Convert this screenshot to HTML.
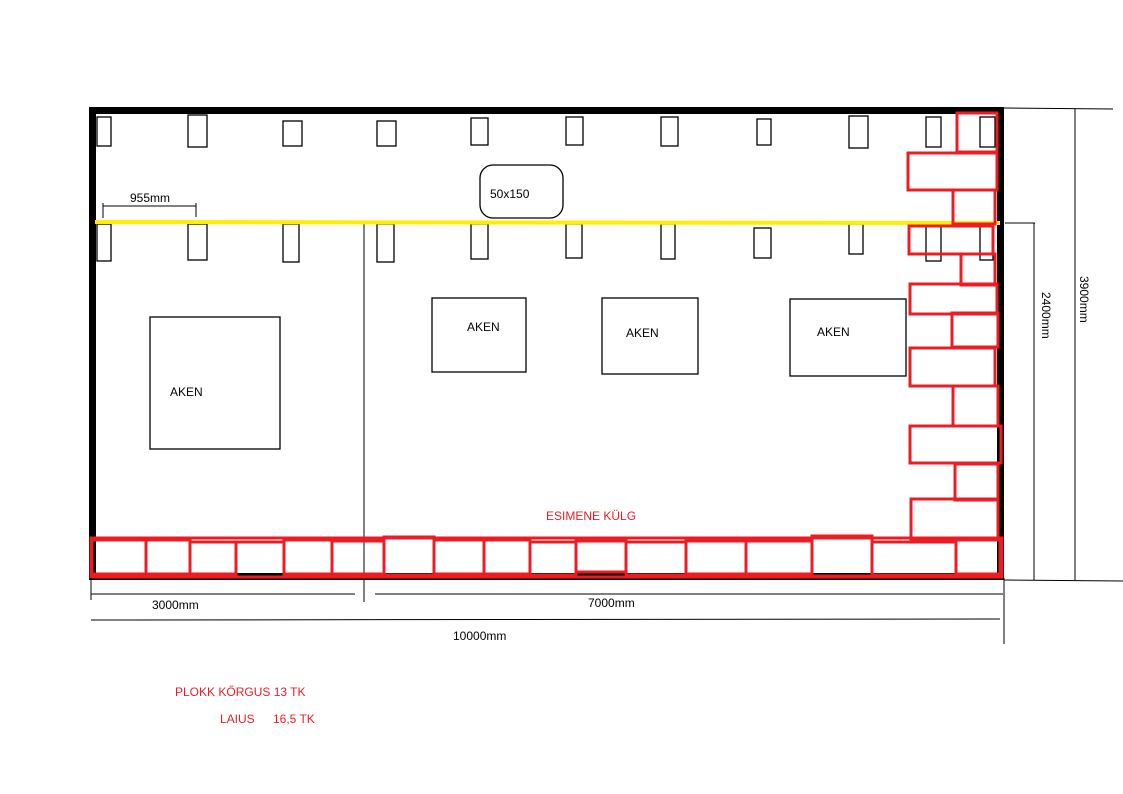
<!DOCTYPE html>
<html><head><meta charset="utf-8"><style>
html,body{margin:0;padding:0;background:#fff;}
svg{display:block;}
text{font-family:"Liberation Sans","DejaVu Sans",sans-serif;font-size:12px;}
</style></head><body>
<svg width="1123" height="794" viewBox="0 0 1123 794" xmlns="http://www.w3.org/2000/svg">
<rect x="0" y="0" width="1123" height="794" fill="#fff"/>
<!-- outer wall -->
<rect x="92.5" y="110.5" width="908" height="466" fill="none" stroke="#000" stroke-width="7"/>
<g fill="none" stroke="#000" stroke-width="1.3">
<!-- top posts -->
<rect x="97" y="117" width="14" height="29"/>
<rect x="188" y="115" width="19" height="32"/>
<rect x="283" y="121" width="19" height="25"/>
<rect x="377" y="121" width="19" height="25"/>
<rect x="471" y="118" width="17" height="27"/>
<rect x="566" y="117" width="17" height="28"/>
<rect x="661" y="117" width="17" height="29"/>
<rect x="757" y="119" width="14" height="26"/>
<rect x="849" y="116" width="19" height="32"/>
<rect x="926" y="117" width="15" height="30"/>
<rect x="980" y="117" width="15" height="30"/>
<!-- lower posts -->
<rect x="97" y="224" width="14" height="37"/>
<rect x="188" y="224" width="19" height="36"/>
<rect x="283" y="224" width="16" height="38"/>
<rect x="377" y="224" width="17" height="38"/>
<rect x="471" y="224" width="17" height="35"/>
<rect x="566" y="224" width="16" height="34"/>
<rect x="661" y="224" width="14" height="35"/>
<rect x="754" y="228" width="17" height="30"/>
<rect x="849" y="224" width="14" height="30"/>
<rect x="926" y="222" width="15" height="39"/>
<rect x="980" y="224" width="13" height="36"/>
<!-- windows -->
<rect x="150" y="317" width="130" height="132"/>
<rect x="432" y="298" width="94" height="74"/>
<rect x="602" y="298" width="96" height="76"/>
<rect x="790" y="299" width="116" height="77"/>
<!-- rounded label box -->
<rect x="480" y="165" width="83" height="53" rx="13"/>
</g>
<!-- divider -->
<line x1="364" y1="223" x2="364" y2="602" stroke="#000" stroke-width="1"/>
<!-- 955mm dim -->
<g stroke="#000" stroke-width="1">
<line x1="103" y1="206" x2="196" y2="206"/>
<line x1="103" y1="203" x2="103" y2="218"/>
<line x1="196" y1="203" x2="196" y2="217"/>
</g>
<!-- yellow line -->
<line x1="95" y1="222" x2="1000" y2="223" stroke="#ffee00" stroke-width="4"/>
<!-- red blocks right -->
<g fill="none" stroke="#ed1c24" stroke-width="3">
<rect x="957" y="113" width="40" height="39"/>
<rect x="908" y="153" width="89" height="37"/>
<rect x="953" y="190" width="42" height="34"/>
<rect x="909" y="226" width="84" height="28"/>
<rect x="961" y="254" width="34" height="31"/>
<rect x="910" y="284" width="87" height="30"/>
<rect x="952" y="313" width="46" height="34"/>
<rect x="910" y="348" width="85" height="38"/>
<rect x="953" y="386" width="45" height="40"/>
<rect x="910" y="426" width="91" height="37"/>
<rect x="955" y="464" width="43" height="36"/>
<rect x="911" y="499" width="87" height="40"/>
<!-- bottom row -->
<rect x="91" y="538" width="911" height="39"/>
<rect x="92" y="540" width="54" height="34"/>
<rect x="146" y="540" width="44" height="34"/>
<rect x="190" y="542" width="46" height="32"/>
<rect x="236" y="542" width="48" height="35"/>
<rect x="284" y="540" width="48" height="34"/>
<rect x="332" y="541" width="52" height="33"/>
<rect x="384" y="537" width="50" height="38"/>
<rect x="434" y="540" width="50" height="34"/>
<rect x="484" y="540" width="46" height="34"/>
<rect x="530" y="542" width="46" height="33"/>
<rect x="576" y="541" width="50" height="31"/>
<rect x="626" y="542" width="60" height="33"/>
<rect x="686" y="541" width="60" height="33"/>
<rect x="746" y="541" width="66" height="33"/>
<rect x="812" y="536" width="60" height="40"/>
<rect x="872" y="542" width="84" height="33"/>
<rect x="956" y="540" width="44" height="34"/>
</g>
<!-- dimensions bottom -->
<g stroke="#000" stroke-width="1">
<line x1="91" y1="578" x2="91" y2="600"/>
<line x1="91" y1="594" x2="355" y2="594"/>
<line x1="375" y1="594" x2="1003" y2="594"/>
<line x1="1004" y1="578" x2="1004" y2="644"/>
<line x1="91" y1="620" x2="1000" y2="619"/>
<!-- right dims -->
<line x1="1004" y1="108" x2="1113" y2="109"/>
<line x1="1075" y1="109" x2="1075" y2="580"/>
<line x1="1004" y1="580" x2="1123" y2="581"/>
<line x1="1005" y1="223" x2="1035" y2="223"/>
<line x1="1034" y1="223" x2="1034" y2="580"/>
</g>
<!-- text -->
<text x="130" y="202" fill="#000">955mm</text>
<text x="490" y="198" fill="#000">50x150</text>
<text x="170" y="396" fill="#000">AKEN</text>
<text x="467" y="331" fill="#000">AKEN</text>
<text x="626" y="337" fill="#000">AKEN</text>
<text x="817" y="336" fill="#000">AKEN</text>
<text x="546" y="520" fill="#ed1c24">ESIMENE KÜLG</text>
<text x="152" y="609" fill="#000">3000mm</text>
<text x="588" y="607" fill="#000">7000mm</text>
<text x="453" y="640" fill="#000">10000mm</text>
<text x="1042" y="292" fill="#000" transform="rotate(90 1042 292)">2400mm</text>
<text x="1080" y="276" fill="#000" transform="rotate(90 1080 276)">3900mm</text>
<text x="175" y="696" fill="#ed1c24">PLOKK KŐRGUS 13 TK</text>
<text x="220" y="723" fill="#ed1c24">LAIUS</text>
<text x="273" y="723" fill="#ed1c24">16,5 TK</text>
</svg>
</body></html>
